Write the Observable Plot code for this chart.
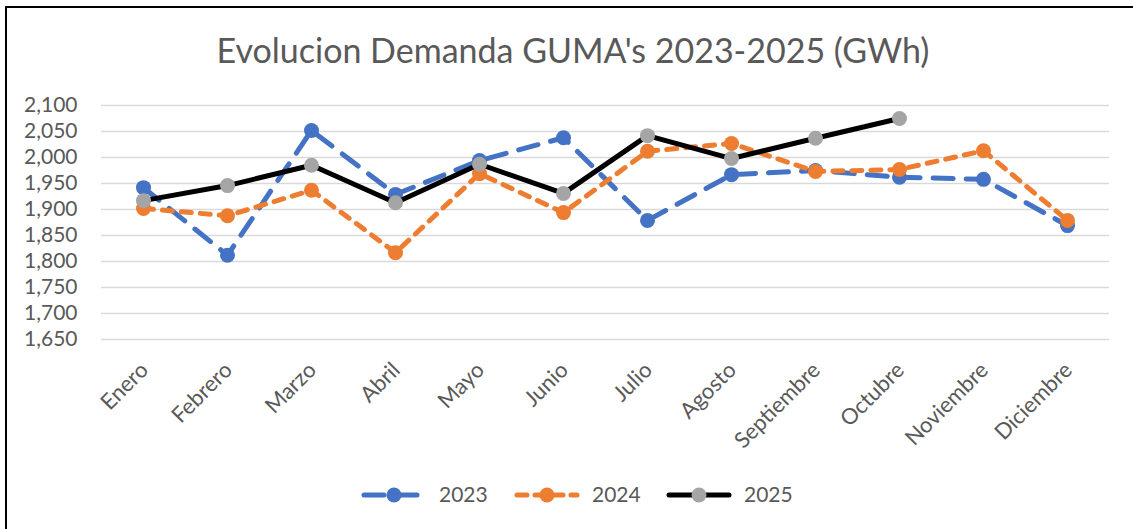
<!DOCTYPE html>
<html>
<head>
<meta charset="utf-8">
<script src="https://cdn.jsdelivr.net/npm/d3@7"></script>
<script src="https://cdn.jsdelivr.net/npm/@observablehq/plot@0.6"></script>
<style>
  html, body { margin: 0; padding: 0; background: #fff; overflow: hidden; }
  #wrap { position: relative; width: 1133px; height: 529px; overflow: hidden; font-family: Lato, "Open Sans", sans-serif; }
  #frame { position: absolute; left: 5px; top: 6px; width: 1200px; height: 600px; border: 2px solid #000; box-sizing: border-box; }
  #title { position: absolute; left: 0; width: 1146px; top: 29px; text-align: center; font-size: 34px; color: #595959; }
  #chart { position: absolute; left: 0; top: 0; }
  #legend { position: absolute; top: 480px; left: 0; width: 1133px; height: 30px; }
</style>
</head>
<body>
<div id="wrap">
  <div id="frame"></div>
  <div id="chart"></div>
  <div id="title">Evolucion Demanda GUMA's 2023-2025 (GWh)</div>
  <svg id="legend" width="1133" height="30"></svg>
</div>
<script>
const months = ["Enero","Febrero","Marzo","Abril","Mayo","Junio","Julio","Agosto","Septiembre","Octubre","Noviembre","Diciembre"];
const yTicks = [1650,1700,1750,1800,1850,1900,1950,2000,2050,2100];
const v2023 = [1942,1812,2052,1929,1994,2038,1879,1967,1975,1962,1958,1869];
const v2024 = [1902,1888,1937,1817,1969,1894,2012,2027,1973,1977,2013,1879];
const v2025 = [1917,1946,1985,1913,1987,1931,2042,1998,2037,2075];

const seriesNames = ["2023","2024","2025"];
const seriesValues = [v2023, v2024, v2025];
const lineColors = ["#4472C4","#ED7D31","#000000"];
const dotColors = ["#4472C4","#ED7D31","#A5A5A5"];
const dashes = ["20,13","10,9",null];

const series = seriesValues.map((vals, i) => vals.map((v, j) => ({month: months[j], value: v, year: seriesNames[i]})));

const marks = [
  Plot.ruleY(yTicks, {stroke: "#d9d9d9", strokeWidth: 1.5}),
  Plot.axisY({ticks: yTicks, tickFormat: d3.format(","), tickSize: 0, tickPadding: 24, fontSize: 21, fill: "#595959", label: null}),
  Plot.text(months, {x: d => d, frameAnchor: "bottom", dy: 27, dx: 1, rotate: -45, textAnchor: "end", lineAnchor: "middle", fontSize: 22, fill: "#595959"})
];
series.forEach((s, i) => {
  marks.push(Plot.line(s, {x: "month", y: "value", stroke: lineColors[i], strokeWidth: 5, strokeDasharray: dashes[i], strokeLinecap: "round", strokeLinejoin: "round"}));
  marks.push(Plot.dot(s, {x: "month", y: "value", r: 7.5, fill: dotColors[i], stroke: "none"}));
});

const chart = Plot.plot({
  width: 1133,
  height: 460,
  marginLeft: 101,
  marginRight: 24,
  marginTop: 105,
  marginBottom: 121,
  style: {fontFamily: "Lato, 'Open Sans', sans-serif", background: "transparent", color: "#595959", overflow: "visible"},
  x: {type: "point", domain: months, padding: 0.5, axis: null},
  y: {domain: [1650, 2100], axis: null},
  marks
});
document.getElementById("chart").appendChild(chart);

// legend
const leg = d3.select("#legend");
const items = [{x: 361}, {x: 514}, {x: 666}];
seriesNames.forEach((name, i) => {
  const x0 = items[i].x, cy = 15;
  leg.append("line").attr("x1", x0 + 3).attr("x2", x0 + 63).attr("y1", cy).attr("y2", cy)
    .attr("stroke", lineColors[i]).attr("stroke-width", 5).attr("stroke-linecap", "round")
    .attr("stroke-dasharray", i === 0 ? "20,13" : (i === 1 ? "10,8" : null));
  leg.append("circle").attr("cx", x0 + 33).attr("cy", cy).attr("r", 7.5).attr("fill", dotColors[i]);
  leg.append("text").attr("x", x0 + 78).attr("y", cy).attr("dy", "0.35em")
    .attr("font-size", 21).attr("fill", "#595959").attr("font-family", "Lato, 'Open Sans', sans-serif").text(name);
});
</script>
</body>
</html>
